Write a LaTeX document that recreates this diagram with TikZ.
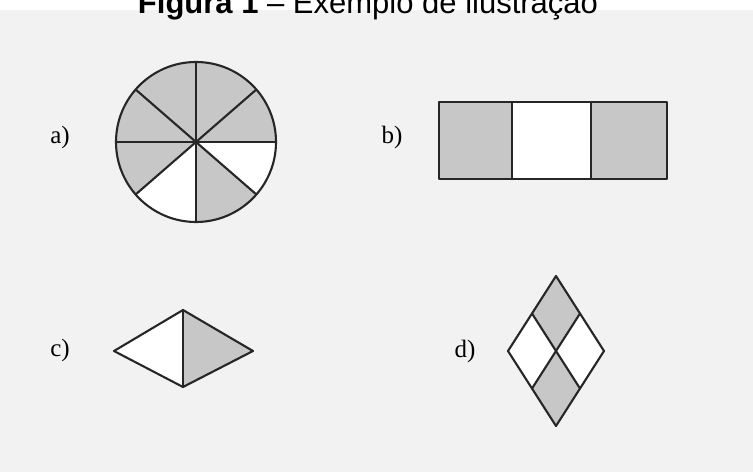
\documentclass[tikz,border=0pt]{standalone}
\usepackage{fontspec}
\setmainfont{Liberation Serif}
\newfontfamily\titlefont{Liberation Sans}
\usetikzlibrary{calc, positioning}

\begin{document}
\begin{tikzpicture}[
    x=1pt, y=1pt,
    outline/.style={black!85, line width=2.1pt, line join=round},
    shaded/.style={fill=black!22},
    partlabel/.style={font=\fontsize{25}{28}\selectfont, inner sep=0pt}
]
\useasboundingbox (0,0) rectangle (753,472);
\fill[black!5] (0,0) rectangle (753,462);
%
\node[font=\titlefont\fontsize{31}{34}\selectfont, anchor=base, inner sep=0pt]
    (title) at (368,458) {\textbf{Figura 1} – Exemplo de ilustração};
%
% (a) circle
\begin{scope}[shift={(196,330)}]
\node[partlabel] (la) at (-136,5) {a)};
\fill[shaded] (0,0) -- (0:80) arc[start angle=0, end angle=221, radius=80] -- cycle;
\fill[shaded] (0,0) -- (270:80) arc[start angle=270, end angle=319, radius=80] -- cycle;
\fill[white] (0,0) -- (221:80) arc[start angle=221, end angle=270, radius=80] -- cycle;
\fill[white] (0,0) -- (319:80) arc[start angle=319, end angle=360, radius=80] -- cycle;
\foreach \a in {0,41,90,139,180,221,270,319}
    \draw[outline] (0,0) -- (\a:80);
\draw[outline] (0,0) circle[radius=80];
\end{scope}
%
% (b) strip of three squares
\begin{scope}
\node[partlabel] (lb) at (392,335) {b)};
\fill[shaded] (439,293) rectangle (512,370);
\fill[white] (512,293) rectangle (591,370);
\fill[shaded] (591,293) rectangle (667,370);
\draw[outline] (439,293) rectangle (667,370);
\draw[outline] (512,293) -- (512,370);
\draw[outline] (591,293) -- (591,370);
\end{scope}
%
% (c) horizontal rhombus
\begin{scope}
\node[partlabel] (lc) at (60,122) {c)};
\fill[white] (114,121) -- (183,162) -- (183,85) -- cycle;
\fill[shaded] (183,162) -- (253,121) -- (183,85) -- cycle;
\draw[outline] (114,121) -- (183,162) -- (253,121) -- (183,85) -- cycle;
\draw[outline] (183,162) -- (183,85);
\end{scope}
%
% (d) vertical rhombus
\begin{scope}
\node[partlabel] (ld) at (465,121) {d)};
\coordinate (dt) at (556,196);
\coordinate (dl) at (508,121);
\coordinate (dr) at (604,121);
\coordinate (db) at (556,46);
\coordinate (dc) at (556,121);
\fill[white] (dt) -- (dr) -- (db) -- (dl) -- cycle;
\fill[shaded] (dt) -- ($(dt)!0.5!(dr)$) -- (dc) -- ($(dt)!0.5!(dl)$) -- cycle;
\fill[shaded] (dc) -- ($(db)!0.5!(dr)$) -- (db) -- ($(db)!0.5!(dl)$) -- cycle;
\draw[outline] (dt) -- (dr) -- (db) -- (dl) -- cycle;
\draw[outline] ($(dt)!0.5!(dl)$) -- ($(db)!0.5!(dr)$);
\draw[outline] ($(dt)!0.5!(dr)$) -- ($(db)!0.5!(dl)$);
\end{scope}
\end{tikzpicture}
\end{document}
